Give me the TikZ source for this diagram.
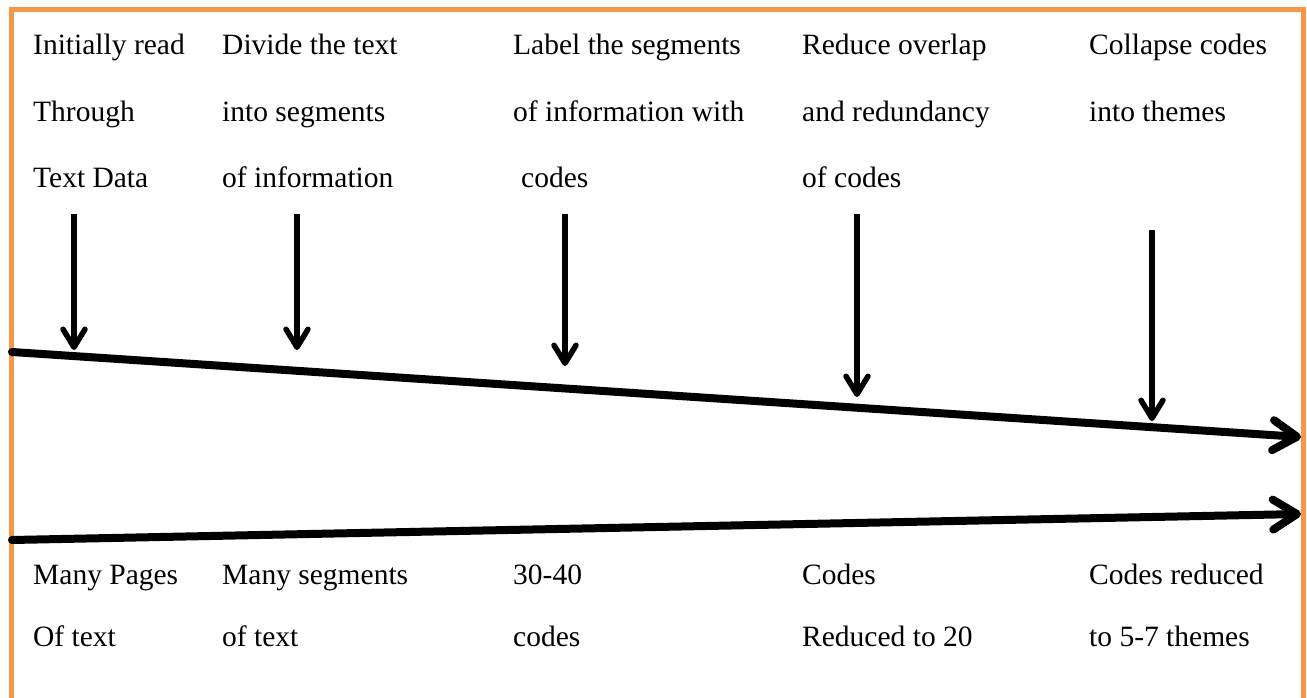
\documentclass[tikz,border=0pt]{standalone}
\usepackage{fontspec}
\setmainfont{Liberation Serif}
\usetikzlibrary{arrows.meta}
\definecolor{frameorange}{HTML}{F79646}
\begin{document}
\begin{tikzpicture}[x=1pt,y=-1pt,
  lbl/.style={anchor=base west,inner sep=0pt,font=\fontsize{29.5}{35}\selectfont},
  mainline/.style={line width=8pt,line cap=round,-{Straight Barb[length=24pt,width=30pt,round]}},
  downarrow/.style={line width=5.5pt,-{Straight Barb[length=18pt,width=22pt,round]}}]
\useasboundingbox (0,0) rectangle (1307,698);
\fill[white] (0,0) rectangle (1307,698);
% frame
\draw[frameorange,line width=5pt] (11.5,720) -- (11.5,10) -- (1303.5,10) -- (1303.5,720);
% top texts
\node[lbl] (a1) at (33,55) {Initially read};
\node[lbl] (a2) at (33,122) {Through};
\node[lbl] (a3) at (33,187) {Text Data};
\node[lbl] (b1) at (222,55) {Divide the text};
\node[lbl] (b2) at (222,122) {into segments};
\node[lbl] (b3) at (222,187) {of information};
\node[lbl] (c1) at (513,55) {Label the segments};
\node[lbl] (c2) at (513,122) {of information with};
\node[lbl] (c3) at (521,187) {codes};
\node[lbl] (d1) at (802,55) {Reduce overlap};
\node[lbl] (d2) at (802,122) {and redundancy};
\node[lbl] (d3) at (802,187) {of codes};
\node[lbl] (e1) at (1089,55) {Collapse codes};
\node[lbl] (e2) at (1089,122) {into themes};
% bottom texts
\node[lbl] (f1) at (33,584) {Many Pages};
\node[lbl] (f2) at (33,646) {Of text};
\node[lbl] (g1) at (222,584) {Many segments};
\node[lbl] (g2) at (222,646) {of text};
\node[lbl] (h1) at (513,584) {30-40};
\node[lbl] (h2) at (513,646) {codes};
\node[lbl] (i1) at (802,584) {Codes};
\node[lbl] (i2) at (802,646) {Reduced to 20};
\node[lbl] (j1) at (1089,584) {Codes reduced};
\node[lbl] (j2) at (1089,646) {to 5-7 themes};
% main lines
\coordinate (u0) at (12,352);
\coordinate (u1) at (1301,437);
\coordinate (l0) at (12,540);
\coordinate (l1) at (1301,514);
\draw[mainline] (u0) -- (u1);
\draw[mainline] (l0) -- (l1);
% down arrows
\coordinate (s1) at (74,214);  \coordinate (t1) at (74,350);
\coordinate (s2) at (297,214); \coordinate (t2) at (297,350);
\coordinate (s3) at (565,214); \coordinate (t3) at (565,366);
\coordinate (s4) at (857,214); \coordinate (t4) at (857,397);
\coordinate (s5) at (1152,230); \coordinate (t5) at (1152,421);
\foreach \k in {1,...,5}{\draw[downarrow] (s\k) -- (t\k);}
\end{tikzpicture}
\end{document}
